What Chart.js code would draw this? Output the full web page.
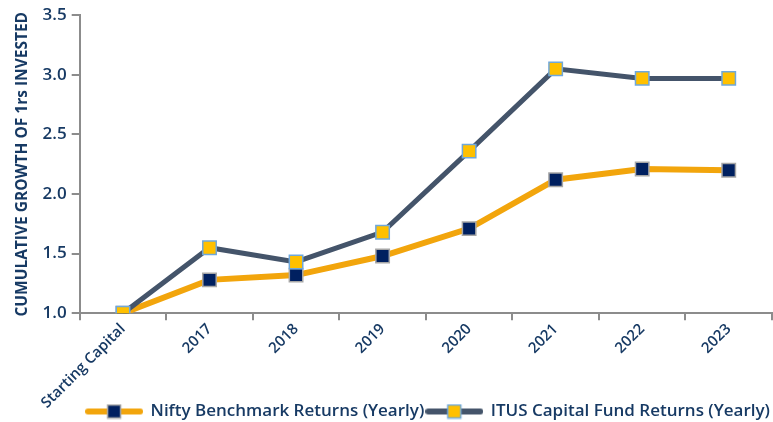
<!DOCTYPE html>
<html>
<head>
<meta charset="utf-8">
<script src="https://cdn.jsdelivr.net/npm/chart.js@4.4.1/dist/chart.umd.min.js"></script>
<style>
  html,body{margin:0;padding:0;background:#fff;}
  #wrap{width:773px;height:422px;position:relative;}
</style>
</head>
<body>
<div id="wrap"><canvas id="growth-chart"></canvas></div>
<script>
/* Cumulative growth of 1rs invested */
const categories=['Starting Capital','2017','2018','2019','2020','2021','2022','2023'];
const niftyValues=[1.00,1.28,1.32,1.48,1.71,2.12,2.21,2.20];
const itusValues=[1.00,1.55,1.43,1.68,2.36,3.05,2.97,2.97];
const yTicks=[1.0,1.5,2.0,2.5,3.0,3.5];

(function(){
  const TXT='#173a64',AXIS='#8c8c8c';
  const ORANGE='#f2a50c',SLATE='#44546a';
  const NAVY='#002060',YELLOW='#ffc000';

  function legendIcon(lineColor,fill,border){
    const c=document.createElement('canvas');c.width=58;c.height=16;
    const g=c.getContext('2d');
    g.strokeStyle=lineColor;g.lineWidth=6;g.lineCap='round';
    g.beginPath();g.moveTo(3,8);g.lineTo(55,8);g.stroke();
    g.fillStyle=fill;g.fillRect(22,1,14,14);
    g.strokeStyle=border;g.lineWidth=1.5;g.strokeRect(22.5,1.5,13,13);
    return c;
  }
  const iconNifty=legendIcon(ORANGE,NAVY,'#a6a6a6');
  const iconItus=legendIcon(SLATE,YELLOW,'#6fa8dc');

  new Chart(document.getElementById('growth-chart'),{
    type:'line',
    data:{labels:categories,datasets:[
      {label:'Nifty Benchmark Returns (Yearly)',data:niftyValues,borderColor:ORANGE,borderWidth:6,
       pointStyle:'rect',pointRadius:9.5,pointHoverRadius:9.5,pointBackgroundColor:NAVY,pointBorderColor:'#a6a6a6',pointBorderWidth:1.5,order:1,tension:0},
      {label:'ITUS Capital Fund Returns (Yearly)',data:itusValues,borderColor:SLATE,borderWidth:5,
       pointStyle:'rect',pointRadius:9.5,pointHoverRadius:9.5,pointBackgroundColor:YELLOW,pointBorderColor:'#6fa8dc',pointBorderWidth:1.5,order:0,tension:0}
    ]},
    options:{responsive:true,maintainAspectRatio:false,animation:false,
      layout:{autoPadding:false,padding:{top:6,right:1,left:13,bottom:-8}},
      scales:{
        x:{offset:true,
          grid:{display:true,offset:true,drawOnChartArea:false,drawTicks:true,tickLength:7,color:AXIS,lineWidth:2},
          border:{display:true,color:AXIS,width:2},
          afterFit:function(s){
            s.height=s.height-11;s.paddingRight=0;s.paddingLeft=0;
            // labels spill below the shortened axis box, as in the original
            s._computeLabelArea=function(){return {top:0,left:0,bottom:this.chart.height,right:this.chart.width};};
          },
          ticks:{color:TXT,maxRotation:45,minRotation:45,padding:0,font:{family:'Open Sans',size:15,weight:'600'}}},
        y:{min:1,max:3.5,afterBuildTicks:function(ax){ax.ticks=yTicks.map(v=>({value:v}));},
          grid:{display:true,drawOnChartArea:false,drawTicks:true,tickLength:8,color:AXIS,lineWidth:2},
          border:{display:true,color:AXIS,width:2},
          title:{display:true,text:'CUMULATIVE GROWTH OF 1rs INVESTED',color:TXT,padding:{top:0,bottom:6},font:{family:'Open Sans',size:15.5,weight:'bold'}},
          ticks:{color:TXT,padding:5,callback:v=>Number(v).toFixed(1),font:{family:'Open Sans',size:17,weight:'600'}}}
      },
      plugins:{
        tooltip:{enabled:false},
        legend:{position:'bottom',align:'end',
          labels:{color:TXT,usePointStyle:true,pointStyleWidth:56,padding:2,
            font:{family:'Open Sans',size:17,weight:'600'},
            generateLabels:function(chart){
              return chart.data.datasets.map((ds,i)=>({text:ds.label,fontColor:TXT,pointStyle:i===0?iconNifty:iconItus,
                fillStyle:'transparent',strokeStyle:'transparent',lineWidth:0,hidden:false,datasetIndex:i}));
            }}}
      }}
  });
})();
</script>
</body>
</html>
